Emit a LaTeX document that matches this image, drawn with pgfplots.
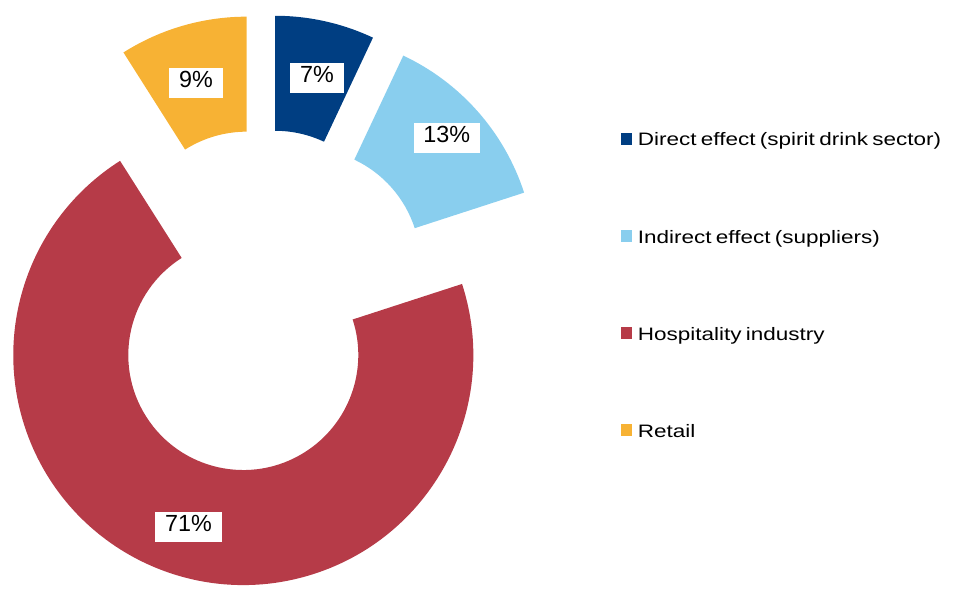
\documentclass[border=0pt]{standalone}
\usepackage{pgfplots}
\pgfplotsset{compat=1.18}
\usepackage{pgfplotstable}
\usepackage{fontspec}
\setmainfont{Liberation Sans}
\newfontfamily\legfont[FakeStretch=1.25,WordSpace=0.7]{Liberation Sans}
\definecolor{cDirect}{RGB}{0,62,130}
\definecolor{cIndirect}{RGB}{137,206,238}
\definecolor{cHosp}{RGB}{182,59,72}
\definecolor{cRetail}{RGB}{247,178,52}

% value (%), label box centre (px), colour, legend text
\pgfplotstableread[col sep=comma]{
value,lx,ly,color,name
7,317,78,cDirect,Direct effect (spirit drink sector)
13,446.7,138,cIndirect,Indirect effect (suppliers)
71,188.5,527,cHosp,Hospitality industry
9,196,83,cRetail,Retail
}\slices

\def\Cx{262.6}   % pie centre, px
\def\Cy{288.6}   % pie centre, px from bottom
\def\D{57}       % explosion offset, px
\def\Rout{172.5pt}
\def\Rin{86.25pt}

\begin{document}
\begin{tikzpicture}
\begin{axis}[
  width=715.5pt, height=442.5pt, scale only axis,
  xmin=0, xmax=954, ymin=0, ymax=590,
  hide axis, clip=false]
\xdef\cum{0}
\pgfplotsforeachungrouped \i in {0,1,2,3}{%
  \pgfplotstablegetelem{\i}{value}\of\slices \let\v\pgfplotsretval
  \pgfplotstablegetelem{\i}{lx}\of\slices \let\lx\pgfplotsretval
  \pgfplotstablegetelem{\i}{ly}\of\slices \let\ly\pgfplotsretval
  \pgfplotstablegetelem{\i}{color}\of\slices \let\col\pgfplotsretval
  \pgfplotstablegetelem{\i}{name}\of\slices \let\nm\pgfplotsretval
  \pgfmathsetmacro\thA{90-3.6*\cum}%
  \pgfmathsetmacro\newcum{\cum+\v}%
  \xdef\cum{\newcum}%
  \pgfmathsetmacro\thB{90-3.6*\cum}%
  \pgfmathsetmacro\thM{(\thA+\thB)/2}%
  \pgfmathsetmacro\cx{\Cx+\D*cos(\thM)}%
  \pgfmathsetmacro\cy{\Cy+\D*sin(\thM)}%
  \pgfmathsetmacro\lyy{590-\ly}%
  \pgfmathsetmacro\legy{590-139-97*\i}%
  \pgfmathsetmacro\legya{\legy-5.6}%
  \pgfmathsetmacro\legyb{\legy+5.6}%
  \pgfmathsetmacro\legyt{\legy-7}%
  \edef\tmp{%
    \noexpand\fill[\col, shift={(axis cs:\cx,\cy)}] (\thA:\Rout)
      arc[start angle=\thA, end angle=\thB, radius=\Rout] -- (\thB:\Rin)
      arc[start angle=\thB, end angle=\thA, radius=\Rin] -- cycle;
    \noexpand\node[fill=white, inner xsep=7.3pt, inner ysep=8pt,
      text height=0.72em, text depth=0pt, font=\noexpand\fontsize{17.5pt}{19pt}\noexpand\selectfont]
      at (axis cs:\lx,\lyy) {\v\noexpand\%};
    \noexpand\fill[\col] (axis cs:621,\legya) rectangle (axis cs:632,\legyb);
    \noexpand\node[anchor=base west, inner sep=0pt,
      font=\noexpand\legfont\noexpand\fontsize{13.5pt}{15pt}\noexpand\selectfont]
      at (axis cs:637.5,\legyt) {\nm};
  }%
  \tmp
}
\end{axis}
\pgfresetboundingbox
\path (current axis.south west) rectangle (current axis.north east);
\end{tikzpicture}
\end{document}
